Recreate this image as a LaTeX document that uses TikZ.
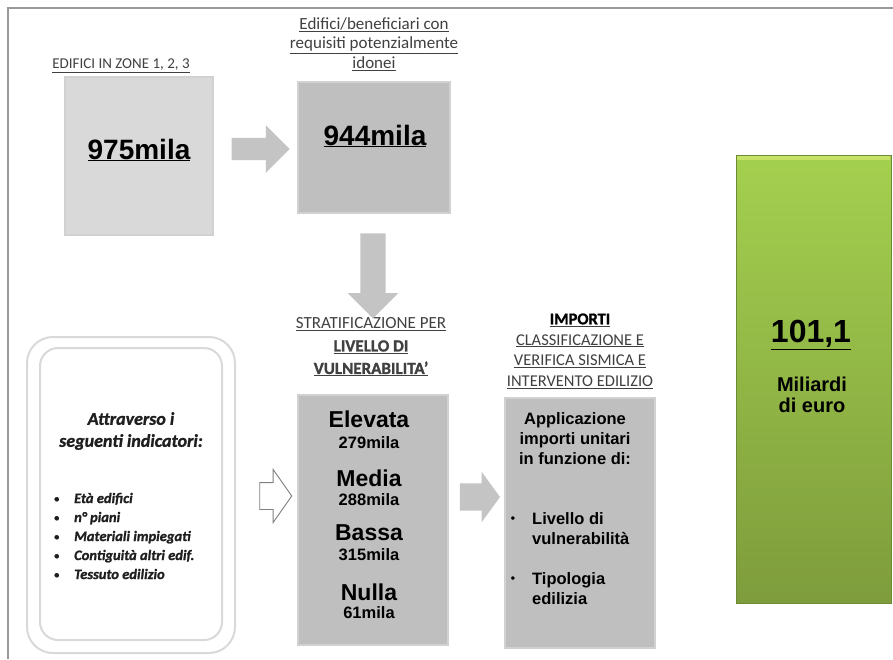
\documentclass[tikz,border=0pt]{standalone}
\usepackage{fontspec}
\setmainfont{Carlito}[BoldFont={Carlito Bold}, BoldFeatures={FakeBold=1.2}, BoldItalicFont={Carlito Bold Italic}, BoldItalicFeatures={FakeBold=1.2}]
\newfontfamily\arial{Liberation Sans}[BoldFont={Liberation Sans Bold}]
\usetikzlibrary{shapes.arrows}
\definecolor{boxA}{HTML}{D9D9D9}
\definecolor{boxB}{HTML}{BFBFBF}
\definecolor{titlegray}{HTML}{404040}
\definecolor{gtop}{HTML}{A4D04F}
\definecolor{gbot}{HTML}{7E9C3C}
\definecolor{gedge}{HTML}{6E8A34}
\definecolor{gstrip}{HTML}{C6E266}
\definecolor{arrowgray}{HTML}{C4C4C4}
\definecolor{framegray}{HTML}{9A9A9A}
\newcommand{\myul}[1]{\underline{#1}}
\newcommand{\sbul}{\makebox[20pt][l]{\fontsize{10}{10}\selectfont\raisebox{1pt}{•}}}
\begin{document}
\begin{tikzpicture}[x=1pt,y=-1pt,
  title/.style={font=\fontsize{17}{19.5}\selectfont, text=titlegray, align=center, inner sep=0},
  graybox/.style={fill=#1, draw=white!82!black, line width=1.2, inner sep=0},
  bignum/.style={font=\arial\bfseries\fontsize{28}{32}\selectfont, inner sep=0},
  lvl/.style={font=\arial\bfseries\fontsize{23}{25}\selectfont, inner sep=0},
  lvlnum/.style={font=\arial\bfseries\fontsize{16.5}{18}\selectfont, inner sep=0},
  bx/.style={font=\arial\bfseries\fontsize{16.5}{20}\selectfont, inner sep=0},
  garrow/.style={single arrow, fill=arrowgray, draw=none, inner xsep=0, single arrow head indent=0},
  roundline/.style={draw=gray!30, line width=2}
]
\useasboundingbox (0,0) rectangle (893,659);
\fill[white] (0,0) rectangle (893,659);
% frame
\coordinate (fb) at (8,659);
\coordinate (fc) at (8,8);
\coordinate (fr) at (893,8);
\draw[framegray, line width=1.2] (fb) -- (fc) -- (fr);

% boxes
\node[graybox=boxA, minimum width=148, minimum height=158] (b1) at (139,156) {};
\node[graybox=boxB, minimum width=152, minimum height=131] (b2) at (374,147.5) {};
\node[graybox=boxB, minimum width=150, minimum height=250] (b3) at (373,520) {};
\node[graybox=boxB, minimum width=150, minimum height=250] (b4) at (580,523) {};
\node[top color=gtop, bottom color=gbot, draw=gedge, line width=1, minimum width=155, minimum height=448, inner sep=0] (g) at (813.5,379) {};
\fill[gstrip] (g.north west) ++(1,1) rectangle ++(153,4);

% rounded box
\node[roundline, rounded corners=26, minimum width=208, minimum height=316, inner sep=0] (outer) at (131,495) {};
\node[roundline, rounded corners=18, minimum width=182, minimum height=292, inner sep=0] (inner) at (131,494) {};

% arrows
\node[garrow, minimum height=58, inner ysep=11, single arrow head extend=12.5] (a1) at (255,149) {};
\node[garrow, rotate=-90, minimum height=85, inner ysep=12.5, single arrow head extend=12.5] (a2) at (373,269.5) {};
\node[garrow, minimum height=40, inner ysep=13.5, single arrow head extend=11.5, single arrow tip angle=108] (a3) at (475,497) {};
\node[single arrow, draw=gray, fill=white, line width=0.9, inner xsep=0, single arrow head indent=0, minimum height=32, inner ysep=13, single arrow head extend=13, single arrow tip angle=110] (a4) at (271,496) {};

% titles
\node[title, font=\fontsize{15}{19}\selectfont] (t1) at (121,66) {\myul{EDIFICI IN ZONE 1, 2, 3}};
\node[title] (t2) at (374,44) {\myul{Edifici/beneficiari con}\\\myul{requisiti potenzialmente}\\\myul{idonei}};
\node[title, font=\fontsize{17}{22.5}\selectfont] (t3) at (371,347) {\myul{STRATIFICAZIONE PER}\\\myul{\textbf{LIVELLO DI}}\\\myul{\textbf{VULNERABILITA’}}};
\node[title, font=\fontsize{16.5}{20.7}\selectfont] (t4) at (580,351) {\myul{\textbf{\color{black}IMPORTI}}\\\myul{CLASSIFICAZIONE E}\\\myul{VERIFICA SISMICA E}\\\myul{INTERVENTO EDILIZIO}};

% box texts
\node[bignum] (n1) at (139,150) {\myul{975mila}};
\node[bignum] (n2) at (375,136) {\myul{944mila}};

\node[lvl] (l1) at (369,419) {Elevata};
\node[lvlnum] (l1n) at (369,443) {279mila};
\node[lvl] (l2) at (369,478) {Media};
\node[lvlnum] (l2n) at (369,500) {288mila};
\node[lvl] (l3) at (369,533) {Bassa};
\node[lvlnum] (l3n) at (369,555) {315mila};
\node[lvl] (l4) at (369,592) {Nulla};
\node[lvlnum] (l4n) at (369,613) {61mila};

\node[bx, align=center] (ap) at (575,439) {Applicazione\\importi unitari\\in funzione di:};
\node[bx, font=\arial\bfseries\fontsize{12}{12}\selectfont] (bu1) at (513,520) {•};
\node[bx, align=left, anchor=west] (it1) at (532,529) {Livello di\\vulnerabilità};
\node[bx, font=\arial\bfseries\fontsize{12}{12}\selectfont] (bu2) at (513,580) {•};
\node[bx, align=left, anchor=west] (it2) at (532,589) {Tipologia\\edilizia};

% left box text
\node[font=\bfseries\itshape\fontsize{18}{22}\selectfont, align=center, inner sep=0, text=black!88] (lh) at (131,431) {Attraverso i\\seguenti indicatori:};
\node[font=\bfseries\itshape\fontsize{14.5}{19}\selectfont, align=left, anchor=west, inner sep=0, text=black!88] (ll) at (54,536)
 {\sbul Età edifici\\\sbul n° piani\\\sbul Materiali impiegati\\\sbul Contiguità altri edif.\\\sbul Tessuto edilizio};

% green text
\node[font=\arial\bfseries\fontsize{32}{36}\selectfont, inner sep=0] (gt) at (811,335) {\myul{101,1}};
\node[font=\arial\bfseries\fontsize{20}{21}\selectfont, align=center, inner sep=0] (gs) at (812,395) {Miliardi\\di euro};
\end{tikzpicture}
\end{document}
